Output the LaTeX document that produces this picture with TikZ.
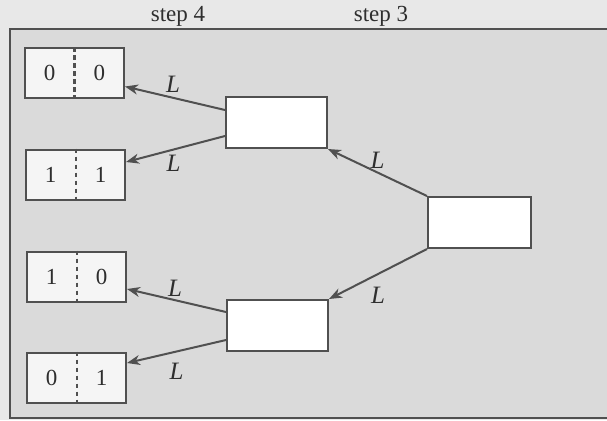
\documentclass[tikz,border=0pt]{standalone}
\usepackage{fontspec}
\setmainfont{Liberation Serif}
\usetikzlibrary{calc,arrows.meta}
\definecolor{pagebg}{HTML}{E8E8E8}
\definecolor{panelbg}{HTML}{DADADA}
\definecolor{boxbg}{HTML}{F5F5F5}
\definecolor{ink}{HTML}{505050}
\definecolor{txt}{HTML}{2E2E2E}
\begin{document}
\begin{tikzpicture}[x=0.5pt,y=-0.5pt,
  font=\rmfamily\fontsize{11.5}{13}\selectfont,
  panel/.style={draw=ink,line width=1pt,fill=panelbg},
  leafbox/.style={draw=ink,line width=1pt,fill=boxbg,minimum width=49.5pt,minimum height=25pt,inner sep=0pt},
  statebox/.style={draw=ink,line width=1pt,fill=white,minimum width=50.5pt,minimum height=25.5pt,inner sep=0pt},
  divider/.style={draw=ink,line width=1pt,dash pattern=on 2.4pt off 1.6pt},
  digit/.style={text=txt,inner sep=0pt},
  steplab/.style={text=txt,anchor=base,inner sep=0pt},
  arr/.style={draw=ink,line width=1pt,-{Stealth[length=6.5pt,width=5pt,inset=2pt]}},
  lab/.style={text=txt,inner sep=0pt,font=\rmfamily\fontsize{12.5}{14}\selectfont\itshape}]
  % page and panel
  \useasboundingbox (0,0) rectangle (607,420);
  \fill[pagebg] (0,0) rectangle (607,420);
  \begin{scope}
    \clip (0,0) rectangle (607,420);
    \draw[panel] (10,29) rectangle (620,418);
  \end{scope}
  % column headings
  \node[steplab] (s4) at (178,21) {step 4};
  \node[steplab] (s3) at (381,21) {step 3};
  % leaf boxes, each split by a dashed divider
  \node[leafbox] (l00) at (74.5,73) {};
  \node[leafbox] (l11) at (75.5,174.5) {};
  \node[leafbox] (l10) at (76.5,276.5) {};
  \node[leafbox] (l01) at (76.5,377.5) {};
  \foreach \n/\a/\b in {l00/0/0,l11/1/1,l10/1/0,l01/0/1}{
    \draw[divider] (\n.north) -- (\n.south);
    \node[digit] (\n a) at ($(\n.center)+(-25,0)$) {\a};
    \node[digit] (\n b) at ($(\n.center)+(25,0)$) {\b};
  }
  % inner states and root
  \node[statebox] (m1) at (276.5,122.5) {};
  \node[statebox] (m2) at (277.5,325.5) {};
  \node[statebox,minimum width=51.5pt] (root) at (479.5,222.5) {};
  % transitions
  \draw[arr] (root.north west) -- (m1.south east)
    node[lab,pos=.5,shift={(0,-12.5)}] (Lr1) {L};
  \draw[arr] (root.south west) -- (m2.north east)
    node[lab,pos=.5,shift={(0,21)}] (Lr2) {L};
  \draw[arr] ($(m1.west)+(0,-12.5)$) -- ($(l00.east)+(0,13.5)$)
    node[lab,pos=.5,shift={(-2,-13.5)}] (La) {L};
  \draw[arr] ($(m1.west)+(0,13.5)$) -- ($(l11.east)+(0,-12.5)$)
    node[lab,pos=.5,shift={(-2,14)}] (Lb) {L};
  \draw[arr] ($(m2.west)+(0,-13.5)$) -- ($(l10.east)+(0,12.5)$)
    node[lab,pos=.5,shift={(-1.5,-12.5)}] (Lc) {L};
  \draw[arr] ($(m2.west)+(0,14.5)$) -- ($(l01.east)+(0,-14.5)$)
    node[lab,pos=.5,shift={(0,20)}] (Ld) {L};
\end{tikzpicture}
\end{document}
